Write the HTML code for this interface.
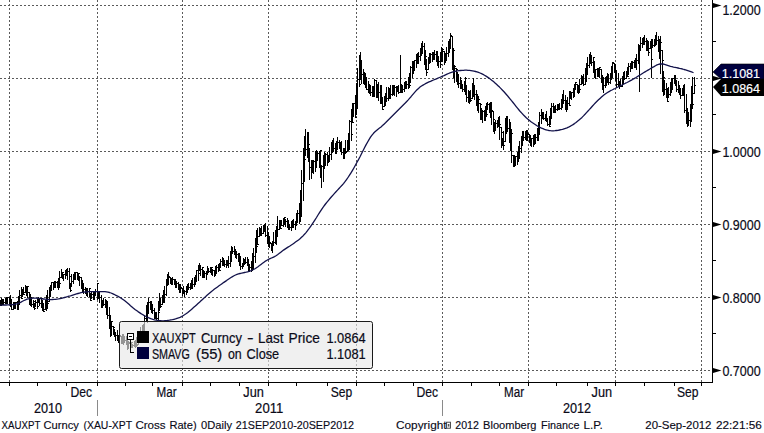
<!DOCTYPE html>
<html><head><meta charset="utf-8">
<style>
html,body{margin:0;padding:0;background:#fff;}
body{width:764px;height:433px;overflow:hidden;font-family:"Liberation Sans",sans-serif;}
svg{display:block;}
text{font-family:"Liberation Sans",sans-serif;fill:#0a0a18;}
</style></head><body>
<svg width="764" height="433" viewBox="0 0 764 433">
<rect width="764" height="433" fill="#fff"/>
<!-- grid -->
<g stroke="#5a5a5a" stroke-width="1" stroke-dasharray="2 2" shape-rendering="crispEdges" fill="none">
<path d="M0 5.5H712M0 78.5H712M0 151.5H712M0 224.5H712M0 297.5H712M0 370.5H712"/>
<path d="M9.5 0V382M97.5 0V382M182.5 0V382M268.5 0V382M356.5 0V382M442.5 0V382M528.5 0V382M615.5 0V382M701.5 0V382"/>
</g>
<!-- bars -->
<path d="M0 300h1v6h-1zM-1 303h1v1h-1zM1 305h1v1h-1zM1 298h1v8h-1zM0 305h1v1h-1zM2 299h1v1h-1zM2 300h1v5h-1zM1 300h1v1h-1zM3 304h1v1h-1zM3 299h1v5h-1zM2 303h1v1h-1zM4 302h1v1h-1zM5 298h1v6h-1zM4 302h1v1h-1zM6 301h1v1h-1zM6 297h1v7h-1zM5 301h1v1h-1zM7 298h1v1h-1zM7 297h1v7h-1zM6 298h1v1h-1zM8 297h1v1h-1zM9 297h1v7h-1zM8 297h1v1h-1zM10 298h1v1h-1zM10 295h1v12h-1zM9 298h1v1h-1zM11 299h1v1h-1zM11 300h1v10h-1zM10 300h1v1h-1zM12 309h1v1h-1zM13 302h1v8h-1zM12 309h1v1h-1zM14 304h1v1h-1zM14 302h1v7h-1zM13 304h1v1h-1zM15 303h1v1h-1zM15 302h1v7h-1zM14 303h1v1h-1zM16 302h1v1h-1zM17 301h1v9h-1zM16 302h1v1h-1zM18 308h1v1h-1zM18 296h1v14h-1zM17 308h1v1h-1zM19 301h1v1h-1zM19 290h1v15h-1zM18 301h1v1h-1zM20 295h1v1h-1zM21 287h1v12h-1zM20 295h1v1h-1zM22 298h1v1h-1zM22 289h1v8h-1zM21 296h1v1h-1zM23 293h1v1h-1zM23 287h1v8h-1zM22 293h1v1h-1zM24 294h1v1h-1zM25 285h1v8h-1zM24 292h1v1h-1zM26 286h1v1h-1zM26 287h1v9h-1zM25 287h1v1h-1zM27 292h1v1h-1zM27 286h1v12h-1zM26 292h1v1h-1zM28 286h1v1h-1zM29 292h1v13h-1zM28 292h1v1h-1zM30 300h1v1h-1zM30 294h1v12h-1zM29 300h1v1h-1zM31 299h1v1h-1zM31 297h1v10h-1zM30 299h1v1h-1zM32 304h1v1h-1zM33 300h1v8h-1zM32 304h1v1h-1zM34 301h1v1h-1zM34 303h1v7h-1zM33 303h1v1h-1zM35 308h1v1h-1zM35 300h1v7h-1zM34 306h1v1h-1zM36 302h1v1h-1zM37 299h1v10h-1zM36 302h1v1h-1zM38 306h1v1h-1zM38 297h1v6h-1zM37 302h1v1h-1zM39 302h1v1h-1zM39 298h1v8h-1zM38 302h1v1h-1zM40 303h1v1h-1zM41 298h1v10h-1zM40 303h1v1h-1zM42 298h1v1h-1zM42 300h1v11h-1zM41 300h1v1h-1zM43 303h1v1h-1zM43 304h1v8h-1zM42 304h1v1h-1zM44 311h1v1h-1zM45 300h1v10h-1zM44 309h1v1h-1zM46 308h1v1h-1zM46 295h1v16h-1zM45 308h1v1h-1zM47 308h1v1h-1zM47 290h1v18h-1zM46 307h1v1h-1zM48 303h1v1h-1zM49 287h1v15h-1zM48 301h1v1h-1zM50 293h1v1h-1zM50 285h1v12h-1zM49 293h1v1h-1zM51 287h1v1h-1zM51 282h1v9h-1zM50 287h1v1h-1zM52 282h1v1h-1zM53 282h1v8h-1zM52 282h1v1h-1zM54 286h1v1h-1zM54 281h1v7h-1zM53 286h1v1h-1zM55 285h1v1h-1zM55 281h1v7h-1zM54 285h1v1h-1zM56 282h1v1h-1zM57 281h1v7h-1zM56 282h1v1h-1zM58 285h1v1h-1zM58 278h1v12h-1zM57 285h1v1h-1zM59 285h1v1h-1zM59 271h1v17h-1zM58 285h1v1h-1zM60 283h1v1h-1zM61 269h1v9h-1zM60 277h1v1h-1zM62 276h1v1h-1zM62 272h1v7h-1zM61 276h1v1h-1zM63 272h1v1h-1zM63 274h1v7h-1zM62 274h1v1h-1zM64 274h1v1h-1zM65 270h1v9h-1zM64 274h1v1h-1zM66 270h1v1h-1zM66 269h1v7h-1zM65 270h1v1h-1zM67 271h1v1h-1zM67 268h1v12h-1zM66 271h1v1h-1zM68 271h1v1h-1zM69 268h1v21h-1zM68 271h1v1h-1zM70 276h1v1h-1zM70 283h1v9h-1zM69 283h1v1h-1zM71 290h1v1h-1zM71 274h1v13h-1zM70 286h1v1h-1zM72 281h1v1h-1zM73 274h1v10h-1zM72 281h1v1h-1zM74 276h1v1h-1zM74 272h1v8h-1zM73 276h1v1h-1zM75 276h1v1h-1zM75 272h1v8h-1zM74 276h1v1h-1zM76 272h1v1h-1zM77 272h1v8h-1zM76 272h1v1h-1zM78 277h1v1h-1zM78 273h1v8h-1zM77 277h1v1h-1zM79 273h1v1h-1zM79 276h1v10h-1zM78 276h1v1h-1zM80 277h1v1h-1zM81 277h1v12h-1zM80 277h1v1h-1zM82 282h1v1h-1zM82 280h1v13h-1zM81 282h1v1h-1zM83 283h1v1h-1zM83 284h1v10h-1zM82 284h1v1h-1zM84 289h1v1h-1zM85 287h1v7h-1zM84 289h1v1h-1zM86 293h1v1h-1zM86 288h1v8h-1zM85 293h1v1h-1zM87 291h1v1h-1zM87 288h1v9h-1zM86 291h1v1h-1zM88 291h1v1h-1zM89 288h1v9h-1zM88 291h1v1h-1zM90 288h1v1h-1zM90 293h1v8h-1zM89 293h1v1h-1zM91 300h1v1h-1zM91 292h1v7h-1zM90 298h1v1h-1zM92 294h1v1h-1zM93 292h1v8h-1zM92 294h1v1h-1zM94 297h1v1h-1zM94 292h1v8h-1zM93 297h1v1h-1zM95 295h1v1h-1zM95 289h1v6h-1zM94 294h1v1h-1zM96 291h1v1h-1zM97 283h1v17h-1zM96 291h1v1h-1zM98 283h1v1h-1zM98 291h1v8h-1zM97 291h1v1h-1zM99 292h1v1h-1zM99 291h1v12h-1zM98 292h1v1h-1zM100 297h1v1h-1zM101 295h1v13h-1zM100 297h1v1h-1zM102 302h1v1h-1zM102 300h1v8h-1zM101 302h1v1h-1zM103 305h1v1h-1zM103 298h1v8h-1zM102 305h1v1h-1zM104 304h1v1h-1zM105 299h1v9h-1zM104 304h1v1h-1zM106 300h1v1h-1zM106 300h1v15h-1zM105 300h1v1h-1zM107 302h1v1h-1zM107 301h1v18h-1zM106 302h1v1h-1zM108 315h1v1h-1zM109 307h1v22h-1zM108 315h1v1h-1zM110 326h1v1h-1zM110 315h1v22h-1zM109 326h1v1h-1zM111 326h1v1h-1zM111 321h1v15h-1zM110 326h1v1h-1zM112 321h1v1h-1zM113 326h1v9h-1zM112 326h1v1h-1zM114 327h1v1h-1zM114 329h1v8h-1zM113 329h1v1h-1zM115 335h1v1h-1zM115 332h1v9h-1zM114 335h1v1h-1zM116 335h1v1h-1zM117 330h1v11h-1zM116 335h1v1h-1zM118 338h1v1h-1zM118 335h1v8h-1zM117 338h1v1h-1zM119 339h1v1h-1zM119 335h1v9h-1zM118 339h1v1h-1zM120 335h1v1h-1zM121 336h1v8h-1zM120 336h1v1h-1zM122 343h1v1h-1zM122 334h1v10h-1zM121 343h1v1h-1zM123 342h1v1h-1zM123 334h1v11h-1zM122 342h1v1h-1zM124 342h1v1h-1zM124 336h1v7h-1zM123 342h1v1h-1zM125 340h1v1h-1zM126 336h1v9h-1zM125 340h1v1h-1zM127 338h1v1h-1zM127 340h1v10h-1zM126 340h1v1h-1zM128 342h1v1h-1zM128 341h1v8h-1zM127 342h1v1h-1zM129 342h1v1h-1zM130 343h1v7h-1zM129 343h1v1h-1zM131 347h1v1h-1zM131 342h1v6h-1zM130 347h1v1h-1zM132 342h1v1h-1zM132 344h1v4h-1zM131 344h1v1h-1zM133 345h1v1h-1zM134 341h1v6h-1zM133 345h1v1h-1zM135 345h1v1h-1zM135 340h1v8h-1zM134 345h1v1h-1zM136 341h1v1h-1zM136 337h1v10h-1zM135 341h1v1h-1zM137 345h1v1h-1zM138 334h1v11h-1zM137 344h1v1h-1zM139 338h1v1h-1zM139 332h1v11h-1zM138 338h1v1h-1zM140 339h1v1h-1zM140 327h1v14h-1zM139 339h1v1h-1zM141 335h1v1h-1zM142 325h1v13h-1zM141 335h1v1h-1zM143 329h1v1h-1zM143 324h1v12h-1zM142 329h1v1h-1zM144 327h1v1h-1zM144 315h1v20h-1zM143 327h1v1h-1zM145 318h1v1h-1zM146 305h1v17h-1zM145 318h1v1h-1zM147 312h1v1h-1zM147 302h1v21h-1zM146 312h1v1h-1zM148 311h1v1h-1zM148 298h1v16h-1zM147 311h1v1h-1zM149 302h1v1h-1zM150 301h1v9h-1zM149 302h1v1h-1zM151 306h1v1h-1zM151 301h1v12h-1zM150 306h1v1h-1zM152 308h1v1h-1zM152 304h1v10h-1zM151 308h1v1h-1zM153 310h1v1h-1zM154 308h1v11h-1zM153 310h1v1h-1zM155 318h1v1h-1zM155 312h1v7h-1zM154 318h1v1h-1zM156 315h1v1h-1zM156 312h1v8h-1zM155 315h1v1h-1zM157 318h1v1h-1zM158 301h1v19h-1zM157 318h1v1h-1zM159 312h1v1h-1zM159 293h1v18h-1zM158 310h1v1h-1zM160 307h1v1h-1zM160 298h1v9h-1zM159 306h1v1h-1zM161 306h1v1h-1zM162 295h1v10h-1zM161 304h1v1h-1zM163 296h1v1h-1zM163 290h1v13h-1zM162 296h1v1h-1zM164 293h1v1h-1zM164 286h1v17h-1zM163 293h1v1h-1zM165 294h1v1h-1zM166 279h1v17h-1zM165 294h1v1h-1zM167 284h1v1h-1zM167 274h1v12h-1zM166 284h1v1h-1zM168 280h1v1h-1zM168 272h1v13h-1zM167 280h1v1h-1zM169 276h1v1h-1zM170 277h1v7h-1zM169 277h1v1h-1zM171 281h1v1h-1zM171 278h1v7h-1zM170 281h1v1h-1zM172 278h1v1h-1zM172 277h1v8h-1zM171 278h1v1h-1zM173 279h1v1h-1zM174 279h1v6h-1zM173 279h1v1h-1zM175 279h1v1h-1zM175 280h1v8h-1zM174 280h1v1h-1zM176 281h1v1h-1zM176 281h1v7h-1zM175 281h1v1h-1zM177 283h1v1h-1zM178 282h1v8h-1zM177 283h1v1h-1zM179 287h1v1h-1zM179 284h1v9h-1zM178 287h1v1h-1zM180 288h1v1h-1zM180 284h1v9h-1zM179 288h1v1h-1zM181 287h1v1h-1zM182 288h1v8h-1zM181 288h1v1h-1zM183 292h1v1h-1zM183 286h1v8h-1zM182 292h1v1h-1zM184 290h1v1h-1zM184 290h1v7h-1zM183 290h1v1h-1zM185 291h1v1h-1zM186 286h1v9h-1zM185 291h1v1h-1zM187 288h1v1h-1zM187 284h1v9h-1zM186 288h1v1h-1zM188 288h1v1h-1zM188 283h1v7h-1zM187 288h1v1h-1zM189 287h1v1h-1zM190 283h1v7h-1zM189 287h1v1h-1zM191 286h1v1h-1zM191 280h1v9h-1zM190 286h1v1h-1zM192 286h1v1h-1zM192 278h1v11h-1zM191 286h1v1h-1zM193 284h1v1h-1zM194 277h1v10h-1zM193 284h1v1h-1zM195 280h1v1h-1zM195 275h1v10h-1zM194 280h1v1h-1zM196 277h1v1h-1zM196 270h1v12h-1zM195 277h1v1h-1zM197 270h1v1h-1zM198 265h1v16h-1zM197 270h1v1h-1zM199 273h1v1h-1zM199 263h1v8h-1zM198 270h1v1h-1zM200 269h1v1h-1zM200 265h1v11h-1zM199 269h1v1h-1zM201 269h1v1h-1zM202 267h1v11h-1zM201 269h1v1h-1zM203 267h1v1h-1zM203 270h1v8h-1zM202 270h1v1h-1zM204 277h1v1h-1zM204 271h1v6h-1zM203 276h1v1h-1zM205 273h1v1h-1zM206 271h1v9h-1zM205 273h1v1h-1zM207 274h1v1h-1zM207 266h1v9h-1zM206 274h1v1h-1zM208 269h1v1h-1zM208 268h1v5h-1zM207 269h1v1h-1zM209 271h1v1h-1zM210 267h1v6h-1zM209 271h1v1h-1zM211 272h1v1h-1zM211 267h1v8h-1zM210 272h1v1h-1zM212 267h1v1h-1zM212 269h1v7h-1zM211 269h1v1h-1zM213 270h1v1h-1zM214 270h1v7h-1zM213 270h1v1h-1zM215 270h1v1h-1zM215 266h1v10h-1zM214 270h1v1h-1zM216 267h1v1h-1zM216 265h1v9h-1zM215 267h1v1h-1zM217 267h1v1h-1zM218 264h1v8h-1zM217 267h1v1h-1zM219 270h1v1h-1zM219 263h1v8h-1zM218 270h1v1h-1zM220 270h1v1h-1zM220 259h1v9h-1zM219 267h1v1h-1zM221 261h1v1h-1zM222 257h1v9h-1zM221 261h1v1h-1zM223 265h1v1h-1zM223 258h1v8h-1zM222 265h1v1h-1zM224 260h1v1h-1zM224 260h1v7h-1zM223 260h1v1h-1zM225 264h1v1h-1zM226 260h1v8h-1zM225 264h1v1h-1zM227 263h1v1h-1zM227 260h1v6h-1zM226 263h1v1h-1zM228 265h1v1h-1zM228 256h1v12h-1zM227 265h1v1h-1zM229 263h1v1h-1zM230 251h1v16h-1zM229 263h1v1h-1zM231 258h1v1h-1zM231 246h1v16h-1zM230 258h1v1h-1zM232 248h1v1h-1zM232 247h1v7h-1zM231 248h1v1h-1zM233 251h1v1h-1zM234 246h1v9h-1zM233 251h1v1h-1zM235 253h1v1h-1zM235 249h1v9h-1zM234 253h1v1h-1zM236 253h1v1h-1zM236 251h1v8h-1zM235 253h1v1h-1zM237 254h1v1h-1zM238 253h1v9h-1zM237 254h1v1h-1zM239 260h1v1h-1zM239 253h1v13h-1zM238 260h1v1h-1zM240 263h1v1h-1zM240 256h1v14h-1zM239 263h1v1h-1zM241 266h1v1h-1zM242 263h1v6h-1zM241 266h1v1h-1zM243 264h1v1h-1zM243 258h1v9h-1zM242 264h1v1h-1zM244 262h1v1h-1zM244 259h1v6h-1zM243 262h1v1h-1zM245 262h1v1h-1zM245 257h1v7h-1zM244 262h1v1h-1zM246 262h1v1h-1zM247 257h1v9h-1zM246 262h1v1h-1zM248 264h1v1h-1zM248 259h1v12h-1zM247 264h1v1h-1zM249 266h1v1h-1zM249 264h1v8h-1zM248 266h1v1h-1zM250 267h1v1h-1zM251 261h1v11h-1zM250 267h1v1h-1zM252 268h1v1h-1zM252 253h1v18h-1zM251 268h1v1h-1zM253 269h1v1h-1zM253 248h1v22h-1zM252 269h1v1h-1zM254 256h1v1h-1zM255 238h1v25h-1zM254 256h1v1h-1zM256 244h1v1h-1zM256 230h1v23h-1zM255 244h1v1h-1zM257 246h1v1h-1zM257 228h1v17h-1zM256 244h1v1h-1zM258 244h1v1h-1zM259 227h1v10h-1zM258 236h1v1h-1zM260 232h1v1h-1zM260 228h1v8h-1zM259 232h1v1h-1zM261 235h1v1h-1zM261 226h1v10h-1zM260 235h1v1h-1zM262 233h1v1h-1zM263 225h1v9h-1zM262 233h1v1h-1zM264 227h1v1h-1zM264 224h1v8h-1zM263 227h1v1h-1zM265 225h1v1h-1zM265 223h1v14h-1zM264 225h1v1h-1zM266 235h1v1h-1zM267 226h1v18h-1zM266 235h1v1h-1zM268 232h1v1h-1zM268 233h1v14h-1zM267 233h1v1h-1zM269 237h1v1h-1zM269 236h1v12h-1zM268 237h1v1h-1zM270 242h1v1h-1zM271 243h1v8h-1zM270 243h1v1h-1zM272 248h1v1h-1zM272 241h1v12h-1zM271 248h1v1h-1zM273 241h1v1h-1zM273 232h1v14h-1zM272 241h1v1h-1zM274 242h1v1h-1zM275 230h1v14h-1zM274 242h1v1h-1zM276 233h1v1h-1zM276 226h1v19h-1zM275 233h1v1h-1zM277 236h1v1h-1zM277 216h1v20h-1zM276 235h1v1h-1zM278 229h1v1h-1zM279 220h1v10h-1zM278 229h1v1h-1zM280 226h1v1h-1zM280 220h1v9h-1zM279 226h1v1h-1zM281 228h1v1h-1zM281 220h1v6h-1zM280 225h1v1h-1zM282 225h1v1h-1zM283 218h1v9h-1zM282 225h1v1h-1zM284 220h1v1h-1zM284 217h1v8h-1zM283 220h1v1h-1zM285 217h1v1h-1zM285 219h1v8h-1zM284 219h1v1h-1zM286 221h1v1h-1zM287 218h1v10h-1zM286 221h1v1h-1zM288 222h1v1h-1zM288 220h1v10h-1zM287 222h1v1h-1zM289 224h1v1h-1zM289 224h1v6h-1zM288 224h1v1h-1zM290 227h1v1h-1zM291 221h1v10h-1zM290 227h1v1h-1zM292 223h1v1h-1zM292 220h1v8h-1zM291 223h1v1h-1zM293 227h1v1h-1zM293 219h1v8h-1zM292 226h1v1h-1zM294 224h1v1h-1zM295 221h1v9h-1zM294 224h1v1h-1zM296 223h1v1h-1zM296 213h1v13h-1zM295 223h1v1h-1zM297 215h1v1h-1zM297 210h1v13h-1zM296 215h1v1h-1zM298 213h1v1h-1zM299 203h1v21h-1zM298 213h1v1h-1zM300 209h1v1h-1zM300 190h1v32h-1zM299 209h1v1h-1zM301 216h1v1h-1zM301 170h1v46h-1zM300 215h1v1h-1zM302 183h1v1h-1zM303 148h1v53h-1zM302 183h1v1h-1zM304 151h1v1h-1zM304 136h1v46h-1zM303 151h1v1h-1zM305 159h1v1h-1zM305 129h1v27h-1zM304 155h1v1h-1zM306 149h1v1h-1zM307 132h1v26h-1zM306 149h1v1h-1zM308 134h1v1h-1zM308 132h1v30h-1zM307 134h1v1h-1zM309 144h1v1h-1zM309 148h1v32h-1zM308 148h1v1h-1zM310 167h1v1h-1zM311 160h1v19h-1zM310 167h1v1h-1zM312 160h1v1h-1zM312 161h1v12h-1zM311 161h1v1h-1zM313 168h1v1h-1zM313 160h1v14h-1zM312 168h1v1h-1zM314 161h1v1h-1zM315 151h1v21h-1zM314 161h1v1h-1zM316 167h1v1h-1zM316 150h1v17h-1zM315 166h1v1h-1zM317 157h1v1h-1zM317 151h1v10h-1zM316 157h1v1h-1zM318 153h1v1h-1zM319 151h1v17h-1zM318 153h1v1h-1zM320 165h1v1h-1zM320 150h1v28h-1zM319 165h1v1h-1zM321 150h1v1h-1zM321 165h1v23h-1zM320 165h1v1h-1zM322 166h1v1h-1zM323 155h1v27h-1zM322 166h1v1h-1zM324 159h1v1h-1zM324 152h1v17h-1zM323 159h1v1h-1zM325 165h1v1h-1zM325 153h1v13h-1zM324 165h1v1h-1zM326 154h1v1h-1zM327 152h1v14h-1zM326 154h1v1h-1zM328 155h1v1h-1zM328 155h1v8h-1zM327 155h1v1h-1zM329 155h1v1h-1zM329 147h1v15h-1zM328 155h1v1h-1zM330 154h1v1h-1zM331 142h1v18h-1zM330 154h1v1h-1zM332 149h1v1h-1zM332 140h1v13h-1zM331 149h1v1h-1zM333 143h1v1h-1zM333 138h1v14h-1zM332 143h1v1h-1zM334 148h1v1h-1zM335 143h1v11h-1zM334 148h1v1h-1zM336 150h1v1h-1zM336 141h1v13h-1zM335 150h1v1h-1zM337 142h1v1h-1zM337 137h1v13h-1zM336 142h1v1h-1zM338 142h1v1h-1zM339 140h1v9h-1zM338 142h1v1h-1zM340 145h1v1h-1zM340 142h1v10h-1zM339 145h1v1h-1zM341 148h1v1h-1zM341 141h1v14h-1zM340 148h1v1h-1zM342 152h1v1h-1zM343 148h1v11h-1zM342 152h1v1h-1zM344 155h1v1h-1zM344 148h1v11h-1zM343 155h1v1h-1zM345 151h1v1h-1zM345 140h1v14h-1zM344 151h1v1h-1zM346 152h1v1h-1zM347 140h1v12h-1zM346 151h1v1h-1zM348 149h1v1h-1zM348 133h1v18h-1zM347 149h1v1h-1zM349 140h1v1h-1zM349 120h1v30h-1zM348 140h1v1h-1zM350 121h1v1h-1zM351 109h1v32h-1zM350 121h1v1h-1zM352 134h1v1h-1zM352 103h1v20h-1zM351 122h1v1h-1zM353 122h1v1h-1zM353 103h1v14h-1zM352 116h1v1h-1zM354 103h1v1h-1zM355 95h1v23h-1zM354 103h1v1h-1zM356 117h1v1h-1zM356 83h1v32h-1zM355 114h1v1h-1zM357 88h1v1h-1zM357 68h1v41h-1zM356 88h1v1h-1zM358 79h1v1h-1zM359 55h1v32h-1zM358 79h1v1h-1zM360 84h1v1h-1zM360 52h1v28h-1zM359 79h1v1h-1zM361 64h1v1h-1zM361 60h1v24h-1zM360 64h1v1h-1zM362 74h1v1h-1zM363 69h1v15h-1zM362 74h1v1h-1zM364 73h1v1h-1zM364 72h1v13h-1zM363 73h1v1h-1zM365 73h1v1h-1zM365 74h1v14h-1zM364 74h1v1h-1zM366 80h1v1h-1zM366 77h1v13h-1zM365 80h1v1h-1zM367 89h1v1h-1zM368 81h1v12h-1zM367 89h1v1h-1zM369 88h1v1h-1zM369 84h1v10h-1zM368 88h1v1h-1zM370 91h1v1h-1zM370 85h1v11h-1zM369 91h1v1h-1zM371 92h1v1h-1zM372 86h1v11h-1zM371 92h1v1h-1zM373 96h1v1h-1zM373 86h1v11h-1zM372 96h1v1h-1zM374 86h1v1h-1zM374 79h1v18h-1zM373 86h1v1h-1zM375 80h1v1h-1zM376 80h1v18h-1zM375 80h1v1h-1zM377 90h1v1h-1zM377 84h1v14h-1zM376 90h1v1h-1zM378 93h1v1h-1zM378 82h1v19h-1zM377 93h1v1h-1zM379 92h1v1h-1zM380 85h1v19h-1zM379 92h1v1h-1zM381 87h1v1h-1zM381 85h1v19h-1zM380 87h1v1h-1zM382 100h1v1h-1zM382 97h1v13h-1zM381 100h1v1h-1zM383 109h1v1h-1zM384 96h1v11h-1zM383 106h1v1h-1zM385 102h1v1h-1zM385 93h1v13h-1zM384 102h1v1h-1zM386 100h1v1h-1zM386 87h1v15h-1zM385 100h1v1h-1zM387 98h1v1h-1zM388 87h1v14h-1zM387 98h1v1h-1zM389 89h1v1h-1zM389 88h1v11h-1zM388 89h1v1h-1zM390 93h1v1h-1zM390 85h1v14h-1zM389 93h1v1h-1zM391 94h1v1h-1zM392 85h1v11h-1zM391 94h1v1h-1zM393 87h1v1h-1zM393 85h1v10h-1zM392 87h1v1h-1zM394 85h1v1h-1zM394 85h1v11h-1zM393 85h1v1h-1zM395 87h1v1h-1zM396 86h1v11h-1zM395 87h1v1h-1zM397 87h1v1h-1zM397 86h1v6h-1zM396 87h1v1h-1zM398 86h1v1h-1zM398 85h1v9h-1zM397 86h1v1h-1zM399 92h1v1h-1zM400 55h1v38h-1zM399 92h1v1h-1zM401 84h1v1h-1zM401 85h1v8h-1zM400 85h1v1h-1zM402 86h1v1h-1zM402 85h1v8h-1zM401 86h1v1h-1zM403 89h1v1h-1zM404 82h1v10h-1zM403 89h1v1h-1zM405 86h1v1h-1zM405 81h1v8h-1zM404 86h1v1h-1zM406 84h1v1h-1zM406 81h1v8h-1zM405 84h1v1h-1zM407 84h1v1h-1zM408 77h1v12h-1zM407 84h1v1h-1zM409 80h1v1h-1zM409 73h1v15h-1zM408 80h1v1h-1zM410 85h1v1h-1zM410 66h1v17h-1zM409 82h1v1h-1zM411 67h1v1h-1zM412 61h1v17h-1zM411 67h1v1h-1zM413 68h1v1h-1zM413 61h1v13h-1zM412 68h1v1h-1zM414 61h1v1h-1zM414 60h1v11h-1zM413 61h1v1h-1zM415 60h1v1h-1zM416 54h1v14h-1zM415 60h1v1h-1zM417 63h1v1h-1zM417 53h1v11h-1zM416 63h1v1h-1zM418 61h1v1h-1zM418 52h1v12h-1zM417 61h1v1h-1zM419 56h1v1h-1zM420 48h1v13h-1zM419 56h1v1h-1zM421 48h1v1h-1zM421 43h1v13h-1zM420 48h1v1h-1zM422 52h1v1h-1zM422 41h1v13h-1zM421 52h1v1h-1zM423 46h1v1h-1zM424 43h1v22h-1zM423 46h1v1h-1zM425 51h1v1h-1zM425 50h1v20h-1zM424 51h1v1h-1zM426 56h1v1h-1zM426 59h1v17h-1zM425 59h1v1h-1zM427 72h1v1h-1zM428 57h1v13h-1zM427 69h1v1h-1zM429 61h1v1h-1zM429 53h1v11h-1zM428 61h1v1h-1zM430 60h1v1h-1zM430 53h1v10h-1zM429 60h1v1h-1zM431 54h1v1h-1zM432 52h1v10h-1zM431 54h1v1h-1zM433 54h1v1h-1zM433 52h1v8h-1zM432 54h1v1h-1zM434 54h1v1h-1zM434 50h1v10h-1zM433 54h1v1h-1zM435 54h1v1h-1zM436 51h1v11h-1zM435 54h1v1h-1zM437 51h1v1h-1zM437 51h1v15h-1zM436 51h1v1h-1zM438 56h1v1h-1zM438 56h1v12h-1zM437 56h1v1h-1zM439 61h1v1h-1zM440 52h1v16h-1zM439 61h1v1h-1zM441 64h1v1h-1zM441 47h1v15h-1zM440 61h1v1h-1zM442 61h1v1h-1zM442 48h1v14h-1zM441 61h1v1h-1zM443 49h1v1h-1zM444 51h1v14h-1zM443 51h1v1h-1zM445 58h1v1h-1zM445 53h1v10h-1zM444 58h1v1h-1zM446 53h1v1h-1zM446 47h1v14h-1zM445 53h1v1h-1zM447 53h1v1h-1zM448 41h1v16h-1zM447 53h1v1h-1zM449 52h1v1h-1zM449 39h1v14h-1zM448 52h1v1h-1zM450 44h1v1h-1zM450 33h1v16h-1zM449 44h1v1h-1zM451 35h1v1h-1zM452 36h1v34h-1zM451 36h1v1h-1zM453 48h1v1h-1zM453 49h1v29h-1zM452 49h1v1h-1zM454 50h1v1h-1zM454 65h1v18h-1zM453 65h1v1h-1zM455 66h1v1h-1zM456 68h1v14h-1zM455 68h1v1h-1zM457 69h1v1h-1zM457 72h1v13h-1zM456 72h1v1h-1zM458 74h1v1h-1zM458 74h1v14h-1zM457 74h1v1h-1zM459 83h1v1h-1zM460 77h1v12h-1zM459 83h1v1h-1zM461 84h1v1h-1zM461 80h1v9h-1zM460 84h1v1h-1zM462 86h1v1h-1zM462 84h1v8h-1zM461 86h1v1h-1zM463 89h1v1h-1zM464 81h1v11h-1zM463 89h1v1h-1zM465 84h1v1h-1zM465 77h1v18h-1zM464 84h1v1h-1zM466 78h1v1h-1zM466 85h1v17h-1zM465 85h1v1h-1zM467 97h1v1h-1zM468 90h1v13h-1zM467 97h1v1h-1zM469 100h1v1h-1zM469 91h1v13h-1zM468 100h1v1h-1zM470 95h1v1h-1zM470 90h1v12h-1zM469 95h1v1h-1zM471 100h1v1h-1zM472 83h1v16h-1zM471 98h1v1h-1zM473 88h1v1h-1zM473 78h1v19h-1zM472 88h1v1h-1zM474 93h1v1h-1zM474 85h1v15h-1zM473 93h1v1h-1zM475 94h1v1h-1zM476 90h1v16h-1zM475 94h1v1h-1zM477 95h1v1h-1zM477 94h1v17h-1zM476 95h1v1h-1zM478 96h1v1h-1zM478 97h1v16h-1zM477 97h1v1h-1zM479 99h1v1h-1zM480 103h1v17h-1zM479 103h1v1h-1zM481 104h1v1h-1zM481 108h1v12h-1zM480 108h1v1h-1zM482 119h1v1h-1zM482 110h1v13h-1zM481 119h1v1h-1zM483 111h1v1h-1zM484 110h1v11h-1zM483 111h1v1h-1zM485 116h1v1h-1zM485 106h1v15h-1zM484 116h1v1h-1zM486 106h1v1h-1zM486 103h1v14h-1zM485 106h1v1h-1zM487 114h1v1h-1zM487 102h1v8h-1zM486 109h1v1h-1zM488 104h1v1h-1zM489 103h1v10h-1zM488 104h1v1h-1zM490 105h1v1h-1zM490 102h1v16h-1zM489 105h1v1h-1zM491 109h1v1h-1zM491 102h1v23h-1zM490 109h1v1h-1zM492 110h1v1h-1zM493 111h1v21h-1zM492 111h1v1h-1zM494 119h1v1h-1zM494 122h1v12h-1zM493 122h1v1h-1zM495 126h1v1h-1zM495 120h1v11h-1zM494 126h1v1h-1zM496 123h1v1h-1zM497 120h1v8h-1zM496 123h1v1h-1zM498 123h1v1h-1zM498 117h1v10h-1zM497 123h1v1h-1zM499 119h1v1h-1zM499 116h1v24h-1zM498 119h1v1h-1zM500 124h1v1h-1zM501 127h1v21h-1zM500 127h1v1h-1zM502 132h1v1h-1zM502 138h1v8h-1zM501 138h1v1h-1zM503 138h1v1h-1zM503 131h1v19h-1zM502 138h1v1h-1zM504 145h1v1h-1zM505 118h1v24h-1zM504 141h1v1h-1zM506 121h1v1h-1zM506 116h1v18h-1zM505 121h1v1h-1zM507 128h1v1h-1zM507 116h1v16h-1zM506 128h1v1h-1zM508 128h1v1h-1zM509 119h1v24h-1zM508 128h1v1h-1zM510 130h1v1h-1zM510 122h1v29h-1zM509 130h1v1h-1zM511 129h1v1h-1zM511 130h1v33h-1zM510 130h1v1h-1zM512 133h1v1h-1zM513 155h1v12h-1zM512 155h1v1h-1zM514 159h1v1h-1zM514 155h1v12h-1zM513 159h1v1h-1zM515 164h1v1h-1zM515 156h1v10h-1zM514 164h1v1h-1zM516 156h1v1h-1zM517 152h1v13h-1zM516 156h1v1h-1zM518 156h1v1h-1zM518 146h1v16h-1zM517 156h1v1h-1zM519 157h1v1h-1zM519 141h1v18h-1zM518 157h1v1h-1zM520 148h1v1h-1zM521 136h1v17h-1zM520 148h1v1h-1zM522 137h1v1h-1zM522 131h1v15h-1zM521 137h1v1h-1zM523 132h1v1h-1zM523 131h1v10h-1zM522 132h1v1h-1zM524 137h1v1h-1zM525 131h1v9h-1zM524 137h1v1h-1zM526 134h1v1h-1zM526 130h1v11h-1zM525 134h1v1h-1zM527 132h1v1h-1zM527 130h1v11h-1zM526 132h1v1h-1zM528 133h1v1h-1zM529 134h1v9h-1zM528 134h1v1h-1zM530 135h1v1h-1zM530 135h1v11h-1zM529 135h1v1h-1zM531 139h1v1h-1zM531 138h1v9h-1zM530 139h1v1h-1zM532 138h1v1h-1zM533 135h1v12h-1zM532 138h1v1h-1zM534 140h1v1h-1zM534 134h1v11h-1zM533 140h1v1h-1zM535 143h1v1h-1zM535 134h1v9h-1zM534 142h1v1h-1zM536 137h1v1h-1zM537 128h1v13h-1zM536 137h1v1h-1zM538 128h1v1h-1zM538 122h1v19h-1zM537 128h1v1h-1zM539 129h1v1h-1zM539 112h1v23h-1zM538 129h1v1h-1zM540 115h1v1h-1zM541 109h1v15h-1zM540 115h1v1h-1zM542 112h1v1h-1zM542 112h1v7h-1zM541 112h1v1h-1zM543 116h1v1h-1zM543 112h1v8h-1zM542 116h1v1h-1zM544 118h1v1h-1zM545 114h1v7h-1zM544 118h1v1h-1zM546 116h1v1h-1zM546 111h1v11h-1zM545 116h1v1h-1zM547 118h1v1h-1zM547 118h1v8h-1zM546 118h1v1h-1zM548 124h1v1h-1zM549 116h1v11h-1zM548 124h1v1h-1zM550 126h1v1h-1zM550 108h1v17h-1zM549 124h1v1h-1zM551 111h1v1h-1zM551 103h1v16h-1zM550 111h1v1h-1zM552 106h1v1h-1zM553 103h1v10h-1zM552 106h1v1h-1zM554 107h1v1h-1zM554 106h1v7h-1zM553 107h1v1h-1zM555 110h1v1h-1zM555 105h1v8h-1zM554 110h1v1h-1zM556 109h1v1h-1zM557 104h1v7h-1zM556 109h1v1h-1zM558 105h1v1h-1zM558 104h1v6h-1zM557 105h1v1h-1zM559 105h1v1h-1zM559 103h1v7h-1zM558 105h1v1h-1zM560 108h1v1h-1zM561 99h1v11h-1zM560 108h1v1h-1zM562 104h1v1h-1zM562 94h1v14h-1zM561 104h1v1h-1zM563 103h1v1h-1zM563 90h1v14h-1zM562 103h1v1h-1zM564 100h1v1h-1zM565 95h1v15h-1zM564 100h1v1h-1zM566 108h1v1h-1zM566 100h1v12h-1zM565 108h1v1h-1zM567 108h1v1h-1zM567 97h1v13h-1zM566 108h1v1h-1zM568 103h1v1h-1zM569 91h1v15h-1zM568 103h1v1h-1zM570 105h1v1h-1zM570 91h1v8h-1zM569 98h1v1h-1zM571 92h1v1h-1zM571 92h1v8h-1zM570 92h1v1h-1zM572 92h1v1h-1zM573 88h1v10h-1zM572 92h1v1h-1zM574 90h1v1h-1zM574 84h1v13h-1zM573 90h1v1h-1zM575 84h1v1h-1zM575 82h1v8h-1zM574 84h1v1h-1zM576 82h1v1h-1zM577 84h1v9h-1zM576 84h1v1h-1zM578 85h1v1h-1zM578 85h1v9h-1zM577 85h1v1h-1zM579 88h1v1h-1zM579 79h1v14h-1zM578 88h1v1h-1zM580 89h1v1h-1zM581 75h1v10h-1zM580 84h1v1h-1zM582 81h1v1h-1zM582 76h1v8h-1zM581 81h1v1h-1zM583 77h1v1h-1zM583 74h1v12h-1zM582 77h1v1h-1zM584 84h1v1h-1zM585 68h1v17h-1zM584 84h1v1h-1zM586 77h1v1h-1zM586 63h1v19h-1zM585 77h1v1h-1zM587 69h1v1h-1zM587 57h1v18h-1zM586 69h1v1h-1zM588 65h1v1h-1zM589 54h1v14h-1zM588 65h1v1h-1zM590 58h1v1h-1zM590 52h1v12h-1zM589 58h1v1h-1zM591 57h1v1h-1zM591 55h1v11h-1zM590 57h1v1h-1zM592 62h1v1h-1zM593 57h1v16h-1zM592 62h1v1h-1zM594 57h1v1h-1zM594 61h1v17h-1zM593 61h1v1h-1zM595 77h1v1h-1zM595 69h1v10h-1zM594 77h1v1h-1zM596 69h1v1h-1zM597 68h1v9h-1zM596 69h1v1h-1zM598 69h1v1h-1zM598 68h1v9h-1zM597 69h1v1h-1zM599 74h1v1h-1zM599 67h1v11h-1zM598 74h1v1h-1zM600 67h1v1h-1zM601 69h1v14h-1zM600 69h1v1h-1zM602 76h1v1h-1zM602 75h1v15h-1zM601 76h1v1h-1zM603 82h1v1h-1zM603 77h1v16h-1zM602 82h1v1h-1zM604 85h1v1h-1zM605 77h1v11h-1zM604 85h1v1h-1zM606 80h1v1h-1zM606 76h1v10h-1zM605 80h1v1h-1zM607 78h1v1h-1zM607 73h1v10h-1zM606 78h1v1h-1zM608 74h1v1h-1zM608 74h1v11h-1zM607 74h1v1h-1zM609 82h1v1h-1zM610 73h1v11h-1zM609 82h1v1h-1zM611 78h1v1h-1zM611 66h1v14h-1zM610 78h1v1h-1zM612 77h1v1h-1zM612 62h1v15h-1zM611 76h1v1h-1zM613 62h1v1h-1zM614 63h1v10h-1zM613 63h1v1h-1zM615 69h1v1h-1zM615 64h1v17h-1zM614 69h1v1h-1zM616 76h1v1h-1zM616 70h1v18h-1zM615 76h1v1h-1zM617 84h1v1h-1zM618 73h1v14h-1zM617 84h1v1h-1zM619 84h1v1h-1zM619 81h1v8h-1zM618 84h1v1h-1zM620 86h1v1h-1zM620 79h1v8h-1zM619 86h1v1h-1zM621 86h1v1h-1zM622 76h1v11h-1zM621 86h1v1h-1zM623 78h1v1h-1zM623 72h1v12h-1zM622 78h1v1h-1zM624 76h1v1h-1zM624 71h1v9h-1zM623 76h1v1h-1zM625 78h1v1h-1zM626 71h1v8h-1zM625 78h1v1h-1zM627 74h1v1h-1zM627 67h1v10h-1zM626 74h1v1h-1zM628 76h1v1h-1zM628 63h1v12h-1zM627 74h1v1h-1zM629 66h1v1h-1zM630 63h1v9h-1zM629 66h1v1h-1zM631 68h1v1h-1zM631 61h1v7h-1zM630 67h1v1h-1zM632 62h1v1h-1zM632 61h1v8h-1zM631 62h1v1h-1zM633 62h1v1h-1zM634 60h1v8h-1zM633 62h1v1h-1zM635 63h1v1h-1zM635 58h1v10h-1zM634 63h1v1h-1zM636 62h1v1h-1zM636 54h1v16h-1zM635 62h1v1h-1zM637 60h1v1h-1zM638 44h1v20h-1zM637 60h1v1h-1zM639 52h1v1h-1zM639 45h1v47h-1zM638 52h1v1h-1zM640 47h1v1h-1zM640 37h1v14h-1zM639 47h1v1h-1zM641 43h1v1h-1zM642 38h1v10h-1zM641 43h1v1h-1zM643 42h1v1h-1zM643 37h1v8h-1zM642 42h1v1h-1zM644 43h1v1h-1zM644 35h1v10h-1zM643 43h1v1h-1zM645 41h1v1h-1zM646 38h1v13h-1zM645 41h1v1h-1zM647 48h1v1h-1zM647 40h1v11h-1zM646 48h1v1h-1zM648 50h1v1h-1zM648 41h1v15h-1zM647 50h1v1h-1zM649 52h1v1h-1zM650 41h1v8h-1zM649 48h1v1h-1zM651 43h1v1h-1zM651 39h1v39h-1zM650 43h1v1h-1zM652 59h1v1h-1zM652 39h1v9h-1zM651 47h1v1h-1zM653 45h1v1h-1zM654 39h1v8h-1zM653 45h1v1h-1zM655 41h1v1h-1zM655 35h1v11h-1zM654 41h1v1h-1zM656 42h1v1h-1zM656 32h1v13h-1zM655 42h1v1h-1zM657 40h1v1h-1zM658 36h1v16h-1zM657 40h1v1h-1zM659 41h1v1h-1zM659 39h1v20h-1zM658 41h1v1h-1zM660 39h1v1h-1zM660 36h1v38h-1zM659 39h1v1h-1zM661 42h1v1h-1zM662 50h1v42h-1zM661 50h1v1h-1zM663 60h1v1h-1zM663 71h1v25h-1zM662 71h1v1h-1zM664 77h1v1h-1zM664 80h1v15h-1zM663 80h1v1h-1zM665 89h1v1h-1zM666 83h1v15h-1zM665 89h1v1h-1zM667 90h1v1h-1zM667 88h1v14h-1zM666 90h1v1h-1zM668 101h1v1h-1zM668 87h1v11h-1zM667 97h1v1h-1zM669 94h1v1h-1zM670 82h1v14h-1zM669 94h1v1h-1zM671 88h1v1h-1zM671 78h1v15h-1zM670 88h1v1h-1zM672 89h1v1h-1zM672 78h1v11h-1zM671 88h1v1h-1zM673 78h1v1h-1zM674 75h1v9h-1zM673 78h1v1h-1zM675 75h1v1h-1zM675 76h1v10h-1zM674 76h1v1h-1zM676 82h1v1h-1zM676 80h1v12h-1zM675 82h1v1h-1zM677 89h1v1h-1zM678 81h1v12h-1zM677 89h1v1h-1zM679 92h1v1h-1zM679 85h1v10h-1zM678 92h1v1h-1zM680 88h1v1h-1zM680 88h1v11h-1zM679 88h1v1h-1zM681 95h1v1h-1zM682 88h1v8h-1zM681 95h1v1h-1zM683 89h1v1h-1zM683 85h1v11h-1zM682 89h1v1h-1zM684 92h1v1h-1zM684 84h1v29h-1zM683 92h1v1h-1zM685 110h1v1h-1zM686 94h1v30h-1zM685 110h1v1h-1zM687 114h1v1h-1zM687 108h1v19h-1zM686 114h1v1h-1zM688 121h1v1h-1zM688 112h1v14h-1zM687 121h1v1h-1zM689 120h1v1h-1zM690 104h1v23h-1zM689 120h1v1h-1zM691 119h1v1h-1zM691 86h1v36h-1zM690 119h1v1h-1zM692 103h1v1h-1zM692 77h1v32h-1zM691 103h1v1h-1zM693 104h1v1h-1zM694 77h1v17h-1zM693 93h1v1h-1zM695 85h1v1h-1z" fill="#000" shape-rendering="crispEdges"/>
<!-- SMA -->
<path d="M0.0 305.2 L1.5 305.1 L3.0 305.1 L4.5 305.0 L6.0 305.0 L7.5 304.9 L9.0 304.8 L10.5 304.7 L12.0 304.6 L13.5 304.5 L15.0 304.3 L16.5 303.9 L18.0 303.4 L19.5 302.8 L21.0 302.1 L22.5 301.3 L24.0 300.5 L25.5 299.8 L27.0 299.2 L28.5 298.8 L30.0 298.5 L31.5 298.3 L33.0 298.2 L34.5 298.2 L36.0 298.2 L37.5 298.3 L39.0 298.4 L40.5 298.6 L42.0 298.8 L43.5 299.0 L45.0 299.2 L46.5 299.4 L48.0 299.5 L49.5 299.6 L51.0 299.6 L52.5 299.5 L54.0 299.4 L55.5 299.3 L57.0 299.1 L58.5 298.9 L60.0 298.6 L61.5 298.3 L63.0 297.9 L64.5 297.5 L66.0 297.1 L67.5 296.7 L69.0 296.2 L70.5 295.8 L72.0 295.3 L73.5 294.8 L75.0 294.3 L76.5 293.9 L78.0 293.5 L79.5 293.1 L81.0 292.7 L82.5 292.4 L84.0 292.2 L85.5 292.0 L87.0 291.8 L88.5 291.7 L90.0 291.6 L91.5 291.6 L93.0 291.6 L94.5 291.6 L96.0 291.6 L97.5 291.6 L99.0 291.6 L100.5 291.6 L102.0 291.6 L103.5 291.6 L105.0 291.7 L106.5 291.9 L108.0 292.2 L109.5 292.5 L111.0 293.0 L112.5 293.6 L114.0 294.3 L115.5 295.1 L117.0 295.8 L118.5 296.6 L120.0 297.5 L121.5 298.4 L123.0 299.5 L124.5 300.6 L126.0 301.8 L127.5 303.0 L129.0 304.3 L130.5 305.7 L132.0 306.9 L133.5 308.2 L135.0 309.4 L136.5 310.5 L138.0 311.6 L139.5 312.6 L141.0 313.6 L142.5 314.5 L144.0 315.4 L145.5 316.2 L147.0 317.0 L148.5 317.7 L150.0 318.3 L151.5 318.9 L153.0 319.4 L154.5 319.8 L156.0 320.1 L157.5 320.4 L159.0 320.6 L160.5 320.7 L162.0 320.8 L163.5 320.8 L165.0 320.7 L166.5 320.6 L168.0 320.4 L169.5 320.2 L171.0 319.9 L172.5 319.7 L174.0 319.3 L175.5 318.9 L177.0 318.4 L178.5 317.9 L180.0 317.3 L181.5 316.6 L183.0 315.7 L184.5 314.8 L186.0 313.8 L187.5 312.7 L189.0 311.4 L190.5 310.2 L192.0 308.9 L193.5 307.6 L195.0 306.3 L196.5 304.9 L198.0 303.5 L199.5 302.2 L201.0 300.8 L202.5 299.4 L204.0 298.0 L205.5 296.7 L207.0 295.3 L208.5 294.0 L210.0 292.7 L211.5 291.4 L213.0 290.3 L214.5 289.1 L216.0 288.0 L217.5 286.9 L219.0 285.8 L220.5 284.8 L222.0 283.7 L223.5 282.6 L225.0 281.6 L226.5 280.6 L228.0 279.5 L229.5 278.5 L231.0 277.5 L232.5 276.6 L234.0 275.8 L235.5 275.0 L237.0 274.4 L238.5 273.9 L240.0 273.5 L241.5 273.2 L243.0 272.8 L244.5 272.5 L246.0 272.2 L247.5 271.8 L249.0 271.3 L250.5 270.8 L252.0 270.2 L253.5 269.5 L255.0 268.7 L256.5 267.7 L258.0 266.7 L259.5 265.6 L261.0 264.4 L262.5 263.3 L264.0 262.2 L265.5 261.1 L267.0 260.2 L268.5 259.4 L270.0 258.7 L271.5 258.0 L273.0 257.3 L274.5 256.6 L276.0 255.7 L277.5 254.7 L279.0 253.6 L280.5 252.4 L282.0 251.2 L283.5 250.1 L285.0 249.1 L286.5 248.1 L288.0 247.1 L289.5 246.2 L291.0 245.2 L292.5 244.3 L294.0 243.2 L295.5 242.1 L297.0 241.0 L298.5 239.9 L300.0 238.7 L301.5 237.3 L303.0 235.9 L304.5 234.3 L306.0 232.6 L307.5 230.7 L309.0 228.7 L310.5 226.6 L312.0 224.4 L313.5 222.2 L315.0 219.8 L316.5 217.5 L318.0 215.0 L319.5 212.7 L321.0 210.4 L322.5 208.2 L324.0 206.0 L325.5 204.0 L327.0 202.1 L328.5 200.3 L330.0 198.5 L331.5 196.8 L333.0 195.1 L334.5 193.4 L336.0 191.7 L337.5 190.1 L339.0 188.5 L340.5 186.9 L342.0 185.3 L343.5 183.6 L345.0 181.7 L346.5 179.7 L348.0 177.5 L349.5 175.2 L351.0 172.8 L352.5 170.3 L354.0 167.7 L355.5 165.0 L357.0 162.3 L358.5 159.6 L360.0 156.8 L361.5 153.8 L363.0 150.8 L364.5 147.8 L366.0 144.9 L367.5 142.2 L369.0 139.6 L370.5 137.2 L372.0 135.1 L373.5 133.3 L375.0 131.8 L376.5 130.5 L378.0 129.2 L379.5 128.1 L381.0 126.9 L382.5 125.6 L384.0 124.2 L385.5 122.8 L387.0 121.3 L388.5 119.8 L390.0 118.3 L391.5 116.8 L393.0 115.3 L394.5 113.8 L396.0 112.3 L397.5 110.8 L399.0 109.3 L400.5 107.8 L402.0 106.3 L403.5 104.8 L405.0 103.3 L406.5 101.7 L408.0 100.1 L409.5 98.4 L411.0 96.7 L412.5 94.9 L414.0 93.1 L415.5 91.4 L417.0 89.8 L418.5 88.4 L420.0 87.1 L421.5 86.0 L423.0 85.1 L424.5 84.2 L426.0 83.4 L427.5 82.6 L429.0 81.9 L430.5 81.3 L432.0 80.6 L433.5 80.0 L435.0 79.4 L436.5 78.8 L438.0 78.1 L439.5 77.5 L441.0 76.9 L442.5 76.2 L444.0 75.6 L445.5 74.9 L447.0 74.2 L448.5 73.5 L450.0 72.9 L451.5 72.4 L453.0 71.9 L454.5 71.5 L456.0 71.2 L457.5 70.9 L459.0 70.7 L460.5 70.5 L462.0 70.4 L463.5 70.3 L465.0 70.2 L466.5 70.2 L468.0 70.3 L469.5 70.4 L471.0 70.6 L472.5 70.9 L474.0 71.2 L475.5 71.5 L477.0 71.9 L478.5 72.4 L480.0 73.0 L481.5 73.7 L483.0 74.4 L484.5 75.2 L486.0 76.1 L487.5 77.1 L489.0 78.1 L490.5 79.3 L492.0 80.4 L493.5 81.6 L495.0 82.9 L496.5 84.3 L498.0 85.7 L499.5 87.1 L501.0 88.6 L502.5 90.2 L504.0 91.8 L505.5 93.5 L507.0 95.2 L508.5 97.0 L510.0 98.8 L511.5 100.7 L513.0 102.5 L514.5 104.4 L516.0 106.3 L517.5 108.2 L519.0 110.0 L520.5 111.8 L522.0 113.4 L523.5 115.0 L525.0 116.5 L526.5 118.0 L528.0 119.3 L529.5 120.5 L531.0 121.7 L532.5 122.8 L534.0 123.8 L535.5 124.8 L537.0 125.8 L538.5 126.6 L540.0 127.4 L541.5 128.1 L543.0 128.7 L544.5 129.4 L546.0 129.8 L547.5 130.2 L549.0 130.5 L550.5 130.7 L552.0 130.8 L553.5 130.8 L555.0 130.7 L556.5 130.5 L558.0 130.3 L559.5 130.0 L561.0 129.7 L562.5 129.4 L564.0 128.9 L565.5 128.4 L567.0 127.9 L568.5 127.2 L570.0 126.4 L571.5 125.5 L573.0 124.6 L574.5 123.6 L576.0 122.5 L577.5 121.3 L579.0 120.1 L580.5 118.8 L582.0 117.4 L583.5 115.9 L585.0 114.3 L586.5 112.6 L588.0 111.0 L589.5 109.4 L591.0 107.7 L592.5 106.0 L594.0 104.4 L595.5 102.8 L597.0 101.3 L598.5 99.8 L600.0 98.4 L601.5 97.0 L603.0 95.7 L604.5 94.6 L606.0 93.5 L607.5 92.5 L609.0 91.6 L610.5 90.7 L612.0 90.0 L613.5 89.2 L615.0 88.5 L616.5 87.7 L618.0 87.0 L619.5 86.2 L621.0 85.5 L622.5 84.8 L624.0 84.0 L625.5 83.2 L627.0 82.5 L628.5 81.7 L630.0 80.9 L631.5 80.1 L633.0 79.3 L634.5 78.4 L636.0 77.5 L637.5 76.5 L639.0 75.6 L640.5 74.7 L642.0 73.7 L643.5 72.8 L645.0 71.9 L646.5 71.0 L648.0 70.1 L649.5 69.2 L651.0 68.3 L652.5 67.4 L654.0 66.6 L655.5 65.7 L657.0 64.9 L658.5 64.4 L660.0 64.0 L661.5 63.9 L663.0 64.0 L664.5 64.3 L666.0 64.8 L667.5 65.3 L669.0 65.8 L670.5 66.3 L672.0 66.7 L673.5 67.1 L675.0 67.4 L676.5 67.7 L678.0 68.0 L679.5 68.4 L681.0 68.7 L682.5 69.0 L684.0 69.5 L685.5 69.9 L687.0 70.4 L688.5 70.9 L690.0 71.4 L691.5 71.9 L693.0 72.5 L693.5 72.8" fill="none" stroke="#12124a" stroke-width="1.3" stroke-linejoin="round"/>
<!-- axes -->
<g fill="#000" shape-rendering="crispEdges">
<rect x="712" y="0" width="1" height="383"/>
<rect x="0" y="382" width="713" height="1"/>
<path d="M9 383h1v3h-1zM37 383h1v3h-1zM66 383h1v3h-1zM97 383h1v3h-1zM125 383h1v3h-1zM152 383h1v3h-1zM182 383h1v3h-1zM210 383h1v3h-1zM239 383h1v3h-1zM268 383h1v3h-1zM296 383h1v3h-1zM327 383h1v3h-1zM356 383h1v3h-1zM384 383h1v3h-1zM413 383h1v3h-1zM442 383h1v3h-1zM471 383h1v3h-1zM499 383h1v3h-1zM528 383h1v3h-1zM556 383h1v3h-1zM587 383h1v3h-1zM615 383h1v3h-1zM644 383h1v3h-1zM674 383h1v3h-1zM701 383h1v3h-1zM713 41h3v1h-3zM713 114h3v1h-3zM713 187h3v1h-3zM713 260h3v1h-3zM713 333h3v1h-3z"/>
</g>
<g fill="#000">
<path d="M713 3L721.5 5.5L713 8zM713 76L721.5 78.5L713 81zM713 149L721.5 151.5L713 154zM713 222L721.5 224.5L713 227zM713 295L721.5 297.5L713 300zM713 368L721.5 370.5L713 373z"/>
</g>
<!-- y labels -->
<g font-size="14.3" stroke="#0a0a18" stroke-width="0.2">
<text x="722.4" y="15" textLength="38.2" lengthAdjust="spacingAndGlyphs">1.2000</text>
<text x="722.4" y="156.8" textLength="38.2" lengthAdjust="spacingAndGlyphs">1.0000</text>
<text x="722.4" y="229.8" textLength="38.2" lengthAdjust="spacingAndGlyphs">0.9000</text>
<text x="722.4" y="302.8" textLength="38.2" lengthAdjust="spacingAndGlyphs">0.8000</text>
<text x="722.4" y="375.8" textLength="38.2" lengthAdjust="spacingAndGlyphs">0.7000</text>
</g>
<!-- flags -->
<path d="M713 72L721 64H764V79H721z" fill="#00003e" stroke="#000" stroke-width="0.6"/>
<path d="M713 87L721 79H764V96H721z" fill="#000"/>
<g font-size="13.5" style="fill:#fff" stroke="#fff" stroke-width="0.2">
<text x="721.8" y="78.4" textLength="38.2" lengthAdjust="spacingAndGlyphs" style="fill:#fff">1.1081</text>
<text x="721.8" y="93.3" textLength="38.2" lengthAdjust="spacingAndGlyphs" style="fill:#fff">1.0864</text>
</g>
<!-- x labels -->
<g font-size="14" text-anchor="middle" stroke="#0a0a18" stroke-width="0.2">
<text x="81.2" y="397.1" textLength="21.6" lengthAdjust="spacingAndGlyphs">Dec</text>
<text x="166.5" y="397.1" textLength="20.1" lengthAdjust="spacingAndGlyphs">Mar</text>
<text x="253.6" y="397.1" textLength="20.6" lengthAdjust="spacingAndGlyphs">Jun</text>
<text x="341.5" y="397.1" textLength="21.5" lengthAdjust="spacingAndGlyphs">Sep</text>
<text x="427.3" y="397.1" textLength="21.6" lengthAdjust="spacingAndGlyphs">Dec</text>
<text x="514.1" y="397.1" textLength="20.1" lengthAdjust="spacingAndGlyphs">Mar</text>
<text x="601.8" y="397.1" textLength="20.6" lengthAdjust="spacingAndGlyphs">Jun</text>
<text x="687.8" y="397.1" textLength="21.5" lengthAdjust="spacingAndGlyphs">Sep</text>
<text x="48" y="412.9" textLength="28.2" lengthAdjust="spacingAndGlyphs">2010</text>
<text x="269.2" y="412.9" textLength="28.2" lengthAdjust="spacingAndGlyphs">2011</text>
<text x="577" y="412.9" textLength="28.2" lengthAdjust="spacingAndGlyphs">2012</text>
</g>
<g fill="#8a8a8a" shape-rendering="crispEdges"><rect x="97" y="400" width="1" height="16"/><rect x="442" y="400" width="1" height="16"/></g>
<!-- footer -->
<g font-size="11.6" stroke="#0a0a18" stroke-width="0.15"><text x="1.6" y="429" textLength="38.8" lengthAdjust="spacingAndGlyphs">XAUXPT</text><text x="43.5" y="429" textLength="35.4" lengthAdjust="spacingAndGlyphs">Curncy</text><text x="83.5" y="429" textLength="48.6" lengthAdjust="spacingAndGlyphs">(XAU-XPT</text><text x="135.4" y="429" textLength="30.2" lengthAdjust="spacingAndGlyphs">Cross</text><text x="169.4" y="429" textLength="27.2" lengthAdjust="spacingAndGlyphs">Rate)</text><text x="201.0" y="429" textLength="31.0" lengthAdjust="spacingAndGlyphs">0Daily</text><text x="235.8" y="429" textLength="118.3" lengthAdjust="spacingAndGlyphs">21SEP2010-20SEP2012</text><text x="396.0" y="429" textLength="50.6" lengthAdjust="spacingAndGlyphs">Copyright</text><text x="455.3" y="429" textLength="23.6" lengthAdjust="spacingAndGlyphs">2012</text><text x="483.1" y="429" textLength="53.4" lengthAdjust="spacingAndGlyphs">Bloomberg</text><text x="541.1" y="429" textLength="38.4" lengthAdjust="spacingAndGlyphs">Finance</text><text x="583.4" y="429" textLength="19.3" lengthAdjust="spacingAndGlyphs">L.P.</text><text x="645.3" y="429" textLength="66.2" lengthAdjust="spacingAndGlyphs">20-Sep-2012</text><text x="716.0" y="429" textLength="45.8" lengthAdjust="spacingAndGlyphs">22:21:56</text></g><rect x="446.6" y="422.2" width="3.8" height="6" fill="none" stroke="#333" stroke-width="0.9"/><rect x="447.8" y="424" width="1.6" height="2.6" fill="#555"/>
<!-- legend -->
<rect x="119.5" y="321.5" width="253" height="47" rx="2.5" ry="2.5" fill="#fff" fill-opacity="0.0"/>
<rect x="119.5" y="321.5" width="253" height="47" rx="2" ry="2" fill="#e7e7e7" fill-opacity="0.64" stroke="#1a1a1a" stroke-width="1"/>
<g shape-rendering="crispEdges">
<rect x="127.5" y="333.5" width="6" height="6" fill="#fff" stroke="#000" stroke-width="1"/>
<rect x="129" y="336" width="3" height="1" fill="#000"/>
<path d="M130 340h1v12h3v1h-4z" fill="#000"/>
<rect x="137" y="331" width="12" height="12" fill="#000"/>
<rect x="137" y="347" width="12" height="12" fill="#00003e"/>
</g>
<g font-size="14.2" stroke="#0a0a18" stroke-width="0.2"><text x="151.9" y="342.8" textLength="43.8" lengthAdjust="spacingAndGlyphs">XAUXPT</text><text x="200.9" y="342.8" textLength="41.0" lengthAdjust="spacingAndGlyphs">Curncy</text><text x="246.9" y="342.8" textLength="6.6" lengthAdjust="spacingAndGlyphs">-</text><text x="258.1" y="342.8" textLength="25.4" lengthAdjust="spacingAndGlyphs">Last</text><text x="288.6" y="342.8" textLength="31.3" lengthAdjust="spacingAndGlyphs">Price</text><text x="326.4" y="342.8" textLength="39.3" lengthAdjust="spacingAndGlyphs">1.0864</text></g><g font-size="14.2" stroke="#0a0a18" stroke-width="0.2"><text x="151.9" y="358.5" textLength="38.0" lengthAdjust="spacingAndGlyphs">SMAVG</text><text x="196.0" y="358.5" textLength="26.3" lengthAdjust="spacingAndGlyphs">(55)</text><text x="227.9" y="358.5" textLength="13.8" lengthAdjust="spacingAndGlyphs">on</text><text x="246.6" y="358.5" textLength="32.6" lengthAdjust="spacingAndGlyphs">Close</text><text x="326.4" y="358.5" textLength="39.3" lengthAdjust="spacingAndGlyphs">1.1081</text></g>
</svg>
</body></html>
